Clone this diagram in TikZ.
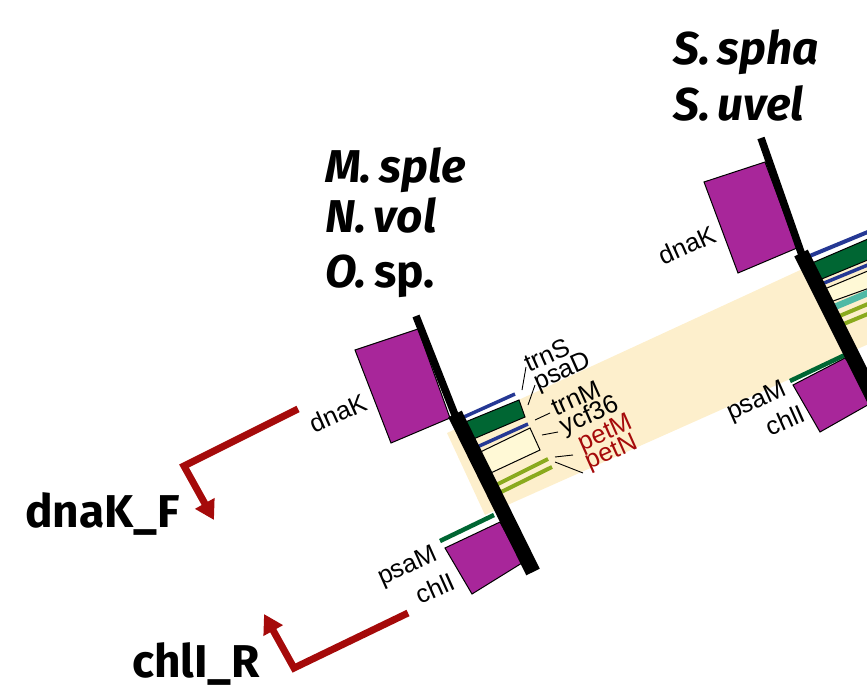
\documentclass[tikz,border=0pt]{standalone}
\usepackage{fontspec}
\setmainfont{Liberation Sans}
\newfontfamily\titlefont{Fira Sans}
\usetikzlibrary{arrows.meta}
\definecolor{cpurple}{RGB}{168,38,154}
\definecolor{cgreen}{RGB}{0,102,51}
\definecolor{cblue}{RGB}{37,56,148}
\definecolor{cbeige}{RGB}{253,239,204}
\definecolor{cyellow}{RGB}{255,249,214}
\definecolor{colive}{RGB}{138,170,30}
\definecolor{cteal}{RGB}{80,185,165}
\definecolor{cred}{RGB}{165,10,10}
\begin{document}
\begin{tikzpicture}[x=1pt,y=-1pt,
  lab/.style={font=\fontsize{25.5}{26}\selectfont, rotate=24, inner sep=0pt},
  redlab/.style={lab, text=cred},
  ttl/.style={font=\titlefont\bfseries\fontsize{46}{50}\selectfont, inner sep=0pt, anchor=base west},
  gbox/.style={draw=black, line width=1pt},
  bar/.style={line width=#1, line cap=butt},
  leader/.style={draw=black, line width=0.9pt},
  primer/.style={draw=cred, line width=7pt, line join=miter, -{Triangle[length=19pt,width=21pt]}}]
\useasboundingbox (0,0) rectangle (867,693);
\clip (0,0) rectangle (867,693);
% syntenic band
\fill[cbeige] (447,433) -- (900,224) -- (900,330) -- (485,515) -- cycle;
% ---- left locus ----
\filldraw[fill=cpurple, gbox] (355,350) -- (418,329) -- (450,418) -- (391,443) -- cycle;
\draw[bar=3.5pt, cblue] (455,421) -- (515,394);
\filldraw[fill=cgreen, gbox] (458,425) -- (519,400) -- (525,417) -- (464,443) -- cycle;
\draw[bar=3.5pt, cblue] (466,452) -- (528,424);
\filldraw[fill=cyellow, gbox] (470,457) -- (530,428) -- (540,450) -- (480,478) -- cycle;
\draw[bar=4pt, colive] (488,489) -- (548,459);
\draw[bar=4pt, colive] (491,497) -- (552,467);
\draw[bar=4.5pt, cgreen] (440,541) -- (494,515);
\filldraw[fill=cpurple, gbox] (445,548) -- (500,522) -- (522,563) -- (472,594) -- cycle;
\draw[line width=7.5pt] (416,316) -- (457,420);
\draw[line width=15pt] (455,414) -- (533,572);
% ---- right locus ----
\filldraw[fill=cpurple, gbox] (704,182) -- (765,162) -- (797,248) -- (738,273) -- cycle;
\draw[bar=4pt, cblue] (800,260) -- (875,229);
\filldraw[fill=cgreen, gbox] (805,266) -- (875,236) -- (875,257) -- (812,283) -- cycle;
\draw[bar=3.5pt, cblue] (812,288) -- (875,262);
\filldraw[fill=cyellow, gbox] (815,293) -- (875,268) -- (875,286) -- (822,305) -- cycle;
\draw[bar=6.5pt, cteal] (825,311) -- (875,290);
\draw[bar=4pt, colive] (830,320) -- (875,301);
\draw[bar=4pt, colive] (834,328) -- (875,311);
\draw[bar=4.5pt, cgreen] (790,381) -- (847,354);
\filldraw[fill=cpurple, gbox] (793,385) -- (845,358) -- (880,398) -- (820,432) -- cycle;
\draw[line width=7.5pt] (761,138) -- (803,258);
\draw[line width=15pt] (801,253) -- (890,431);
% ---- labels ----
\node[lab] (dnaK1) at (338,413) {dnaK};
\node[lab] (dnaK2) at (687,245) {dnaK};
\node[lab] (trnS) at (547,355) {trnS};
\node[lab] (psaD) at (563,373) {psaD};
\node[lab] (trnM) at (576,398) {trnM};
\node[lab] (ycf36) at (590,416) {ycf36};
\node[redlab] (petM) at (606,434) {petM};
\node[redlab] (petN) at (612,453) {petN};
\node[lab] (psaM1) at (408,567) {psaM};
\node[lab] (chlI1) at (435,588) {chlI};
\node[lab] (psaM2) at (757,402) {psaM};
\node[lab] (chlI2) at (785,420) {chlI};
\draw[leader] (522,390) -- (526,367);
\draw[leader] (528,405) -- (535,385);
\draw[leader] (535,420) -- (550,413);
\draw[leader] (542,435) -- (558,432);
\draw[leader] (555,457) -- (573,455);
\draw[leader] (555,462) -- (583,473);
% ---- titles ----
\node[ttl] (m) at (325,182) {\itshape M.\,sple};
\node[ttl] (n) at (325,232) {\itshape N.\,vol};
\node[ttl] (o) at (325,287) {\textit{O.}\,sp.};
\node[ttl] (s1) at (673,65) {\itshape S.\,spha};
\node[ttl] (s2) at (673,120) {\itshape S.\,uvel};
% ---- primers ----
\node[ttl] (pF) at (25,527) {dnaK\_F};
\node[ttl] (pR) at (132,677) {chlI\_R};
\coordinate (fa) at (298,409);
\coordinate (fb) at (184,466);
\coordinate (fc) at (214,520);
\coordinate (ra) at (408,613);
\coordinate (rb) at (294,668);
\coordinate (rc) at (264,614);
\draw[primer] (fa) -- (fb) -- (fc);
\draw[primer] (ra) -- (rb) -- (rc);
\end{tikzpicture}
\end{document}
